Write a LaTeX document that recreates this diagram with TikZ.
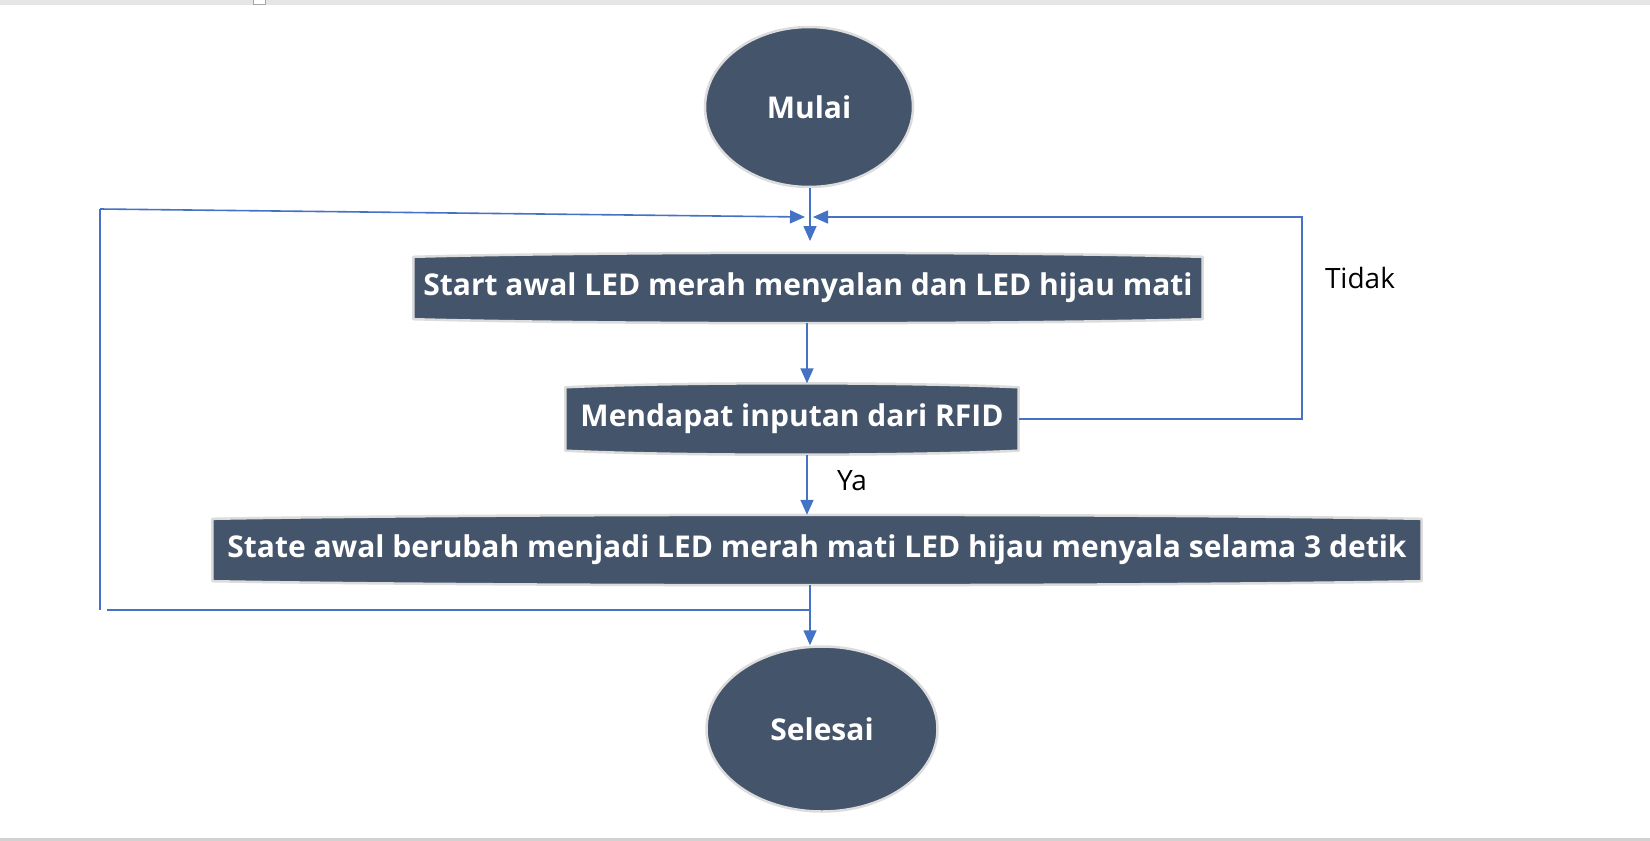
\documentclass[tikz,border=0pt]{standalone}
\usepackage{fontspec}
\setmainfont{Open Sans}
\usetikzlibrary{arrows.meta,shapes.geometric,calc,backgrounds}
\definecolor{slate}{HTML}{44546A}
\definecolor{outl}{HTML}{DCDCDC}
\definecolor{conblue}{HTML}{4472C4}
\tikzset{
  term/.style={ellipse, fill=slate, draw=outl, line width=2.5pt, text=white, font=\bfseries\fontsize{30}{34}\selectfont, inner sep=0pt},
  proc/.style={rectangle, text=white, font=\bfseries\fontsize{30}{34}\selectfont, inner sep=0pt},
  boxfill/.style={fill=slate, draw=outl, line width=2.5pt, line join=round},
  conn/.style={draw=conblue, line width=1.6pt, -{Triangle[width=13pt,length=15pt]}},
  plain/.style={draw=conblue, line width=1.6pt},
  lbl/.style={font=\fontsize{28}{31}\selectfont, text=black, inner sep=0pt}
}
\newcommand\flowbox[1]{%
  \filldraw[boxfill] ($(#1.north west)+(0,4)$) -- ($(#1.south west)+(0,-4)$)
   .. controls ($(#1.south west)!0.25!(#1.south east)+(0,1.33)$) and ($(#1.south west)!0.75!(#1.south east)+(0,1.33)$) .. ($(#1.south east)+(0,-4)$)
   -- ($(#1.north east)+(0,4)$)
   .. controls ($(#1.north west)!0.75!(#1.north east)+(0,-1.33)$) and ($(#1.north west)!0.25!(#1.north east)+(0,-1.33)$) .. cycle;}
\begin{document}
\begin{tikzpicture}[x=1pt,y=-1pt]
\useasboundingbox (0,0) rectangle (1650,841);
% window chrome
\fill[gray!20] (0,0) rectangle (1650,5);
\draw[gray!70, line width=1pt, fill=white] (253,-2) rectangle (265,4.5);
\fill[gray!35] (0,838) rectangle (1650,841);

\node[term, minimum width=208pt, minimum height=160pt] (mulai) at (809,107) {Mulai};
\node[proc, minimum width=789pt, minimum height=70pt] (b1) at (808,288) {Start awal LED merah menyalan dan LED hijau mati};
\node[proc, minimum width=453pt, minimum height=71pt] (b2) at (792,419) {Mendapat inputan dari RFID};
\node[proc, minimum width=1209pt, minimum height=70pt] (b3) at (817,550) {State awal berubah menjadi LED merah mati LED hijau menyala selama 3 detik};
\node[term, minimum width=231pt, minimum height=165pt] (sel) at (822,729) {Selesai};

\begin{pgfonlayer}{background}
\fill[white] (0,5) rectangle (1650,838);
\flowbox{b1}
\flowbox{b2}
\flowbox{b3}
\end{pgfonlayer}

\node[lbl] (tidak) at (1360,278) {Tidak};
\node[lbl] (ya) at (852,481) {Ya};

\coordinate (jl) at (805,217);
\coordinate (jr) at (813,217);
\coordinate (lt) at (100,209);
\coordinate (lb) at (100,610);
\coordinate (lbh) at (107,610);
\coordinate (bm) at (810,610);
\coordinate (rc) at (1302,217);
\coordinate (t1) at (810,241);

\draw[conn] (mulai.south -| 810,0) -- (t1);
\draw[conn] (b1.south -| 807,0) -- (b2.north -| 807,0);
\draw[conn] (b2.south -| 807,0) -- (b3.north -| 807,0);
\draw[conn] (b3.south -| 810,0) -- (sel.north -| 810,0);

\draw[conn] (b2.east) -| (rc) -- (jr);
\draw[plain] (bm) -- (lbh);
\draw[plain] (lb) -- (lt);
\draw[conn] (lt) -- (jl);
\end{tikzpicture}
\end{document}
